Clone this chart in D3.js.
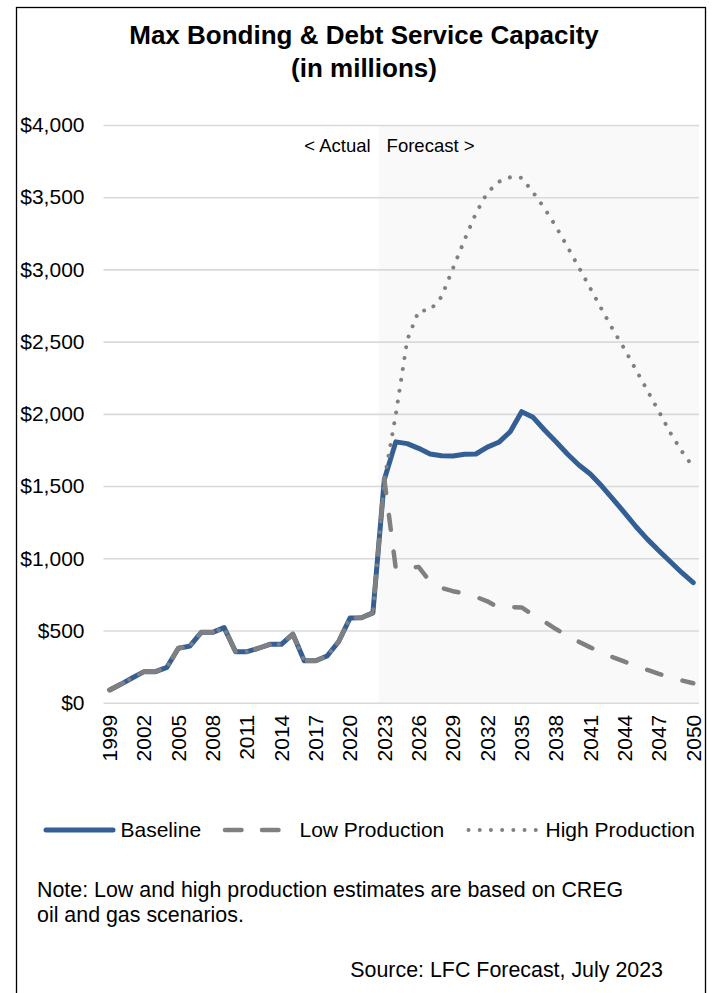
<!DOCTYPE html>
<html>
<head>
<meta charset="utf-8">
<script src="https://cdn.jsdelivr.net/npm/d3@7"></script>
<style>
  body { margin: 0; background: #fff; }
  svg text { font-family: "Liberation Sans", Arial, sans-serif; fill: #000; }
</style>
</head>
<body>
<svg width="712" height="993"></svg>
<script>
'use strict';

// ---- data (millions of $) ----
const years = d3.range(1999, 2051);
const tickYears = years.filter(function(d, i) { return i % 3 === 0; });
const yTicks = [0, 500, 1000, 1500, 2000, 2500, 3000, 3500, 4000];

// 1999 - 2022, shared by all scenarios
const actual = [88, 129, 173, 215, 215, 245, 377, 392, 487, 487, 520, 353,
                353, 377, 404, 404, 475, 290, 290, 323, 422, 586, 588, 622];
// 2023 - 2050
const baseline = [1545, 1806, 1794, 1761, 1722, 1710, 1708, 1720, 1722, 1770,
                  1803, 1876, 2015, 1976, 1888, 1807, 1722, 1646, 1583, 1500,
                  1408, 1315, 1218, 1131, 1052, 976, 900, 831];
const lowProd = [1545, 930, 935, 940, 838, 795, 772, 757, 733, 702,
                 658, 662, 660, 607, 560, 510, 463, 422, 383, 347,
                 314, 284, 256, 227, 200, 175, 154, 135];
const highProd = [1545, 1995, 2511, 2713, 2718, 2811, 3007, 3203, 3388, 3531,
                  3607, 3638, 3635, 3534, 3423, 3296, 3157, 3014, 2869, 2723,
                  2580, 2447, 2303, 2160, 2015, 1868, 1740, 1630];

const forecastStart = 2023;

class Plot {
  constructor() {
    this.svg = d3.select("svg");
    this.left = 103.5;
    this.right = 699;
    this.top = 125;
    this.bottom = 702.7;
    this.blue = "#335f95";
    this.gray = "#808080";
  }

  draw() {
    this.drawFrame();
    this.createScales();
    this.drawShade();
    this.drawAxisY();
    this.drawAxisX();
    this.drawLines();
    this.drawLegend();
    this.drawNotes();
  }

  drawFrame() {
    this.svg.append("rect")
      .attr("x", 16.5).attr("y", 7.5)
      .attr("width", 689).attr("height", 1000)
      .attr("fill", "none")
      .attr("stroke", "#000")
      .attr("stroke-width", 1.3);

    const title = this.svg.append("text")
      .attr("text-anchor", "middle")
      .style("font-size", "26px")
      .style("font-weight", "bold");
    title.append("tspan").attr("x", 364).attr("y", 44).text("Max Bonding & Debt Service Capacity");
    title.append("tspan").attr("x", 364).attr("y", 77).text("(in millions)");
  }

  createScales() {
    this.x = d3.scaleBand().domain(years).range([104, this.right]);
    this.y = d3.scaleLinear().domain([0, 4000]).range([this.bottom, this.top]);
  }

  cx(d) {
    return this.x(d) + this.x.bandwidth() / 2;
  }

  drawShade() {
    const x0 = this.x(forecastStart);
    this.svg.append("rect")
      .attr("x", x0).attr("y", this.top)
      .attr("width", this.right - x0)
      .attr("height", this.bottom - this.top)
      .attr("fill", "#f9f9f9");

    this.svg.append("text")
      .attr("x", x0 - 8).attr("y", 152)
      .attr("text-anchor", "end")
      .style("font-size", "18.5px")
      .text("< Actual");
    this.svg.append("text")
      .attr("x", x0 + 8).attr("y", 152)
      .style("font-size", "18.5px")
      .text("Forecast >");
  }

  drawAxisY() {
    const axis = d3.axisLeft(this.y)
      .tickValues(yTicks)
      .tickFormat(function(d) { return "$" + d3.format(",")(d); })
      .tickSize(-(this.right - this.left))
      .tickPadding(19);
    const g = this.svg.append("g")
      .attr("class", "axis axis--y")
      .attr("transform", "translate(" + this.left + ",0)")
      .call(axis);
    g.select(".domain").remove();
    g.selectAll("line").attr("stroke", "#d9d9d9").attr("stroke-width", 1.6);
    g.selectAll("text")
      .attr("font-family", null)
      .style("font-size", "21px");
  }

  drawAxisX() {
    const g = this.svg.append("g")
      .attr("class", "axis axis--x")
      .attr("transform", "translate(0," + this.bottom + ")")
      .call(d3.axisBottom(this.x).tickValues(tickYears).tickSize(0));
    g.select(".domain").remove();
    g.selectAll("text")
      .attr("font-family", null)
      .style("font-size", "21px")
      .style("text-anchor", "end")
      .attr("x", -12).attr("y", 0)
      .attr("dy", "0.35em")
      .attr("transform", "rotate(-90)");
  }

  drawLines() {
    const $this = this;
    const line = d3.line()
      .x(function(d) { return $this.cx(d.year); })
      .y(function(d) { return $this.y(d.value); });
    const toSeries = function(forecast) {
      return actual.concat(forecast).map(function(v, i) { return {year: years[i], value: v}; });
    };

    this.svg.append("path")
      .datum(toSeries(baseline))
      .attr("fill", "none")
      .attr("stroke", this.blue)
      .attr("stroke-width", 5)
      .attr("stroke-linejoin", "round")
      .attr("stroke-linecap", "round")
      .attr("d", line);

    this.svg.append("path")
      .datum(toSeries(lowProd))
      .attr("fill", "none")
      .attr("stroke", this.gray)
      .attr("stroke-width", 4.5)
      .attr("stroke-linejoin", "round")
      .attr("stroke-linecap", "round")
      .attr("stroke-dasharray", "15,22")
      .attr("d", line);

    this.svg.append("path")
      .datum(toSeries(highProd))
      .attr("fill", "none")
      .attr("stroke", this.gray)
      .attr("stroke-width", 4)
      .attr("stroke-linecap", "round")
      .attr("stroke-dasharray", "0.01,11")
      .attr("d", line);
  }

  drawLegend() {
    const ly = 830;
    const lg = this.svg.append("g").attr("class", "legend");
    lg.append("line")
      .attr("x1", 46).attr("x2", 113).attr("y1", ly).attr("y2", ly)
      .attr("stroke", this.blue).attr("stroke-width", 5).attr("stroke-linecap", "round");
    lg.append("line")
      .attr("x1", 225).attr("x2", 279).attr("y1", ly).attr("y2", ly)
      .attr("stroke", this.gray).attr("stroke-width", 4.5).attr("stroke-linecap", "round")
      .attr("stroke-dasharray", "16.5,20.5");
    lg.append("line")
      .attr("x1", 468.5).attr("x2", 536).attr("y1", ly).attr("y2", ly)
      .attr("stroke", this.gray).attr("stroke-width", 4).attr("stroke-linecap", "round")
      .attr("stroke-dasharray", "0.01,11.2");

    const labels = [["Baseline", 120.5], ["Low Production", 299.5], ["High Production", 545.5]];
    lg.selectAll("text.lab")
      .data(labels)
      .enter().append("text")
      .attr("class", "lab")
      .attr("x", function(d) { return d[1]; })
      .attr("y", ly + 7)
      .style("font-size", "21px")
      .text(function(d) { return d[0]; });
  }

  drawNotes() {
    this.svg.append("text")
      .attr("x", 37).attr("y", 897)
      .style("font-size", "21.4px")
      .text("Note: Low and high production estimates are based on CREG");
    this.svg.append("text")
      .attr("x", 37).attr("y", 922)
      .style("font-size", "21.4px")
      .text("oil and gas scenarios.");
    this.svg.append("text")
      .attr("x", 663).attr("y", 977)
      .attr("text-anchor", "end")
      .style("font-size", "21.4px")
      .text("Source: LFC Forecast, July 2023");
  }
}

const plot = new Plot();
plot.draw();
</script>
</body>
</html>
